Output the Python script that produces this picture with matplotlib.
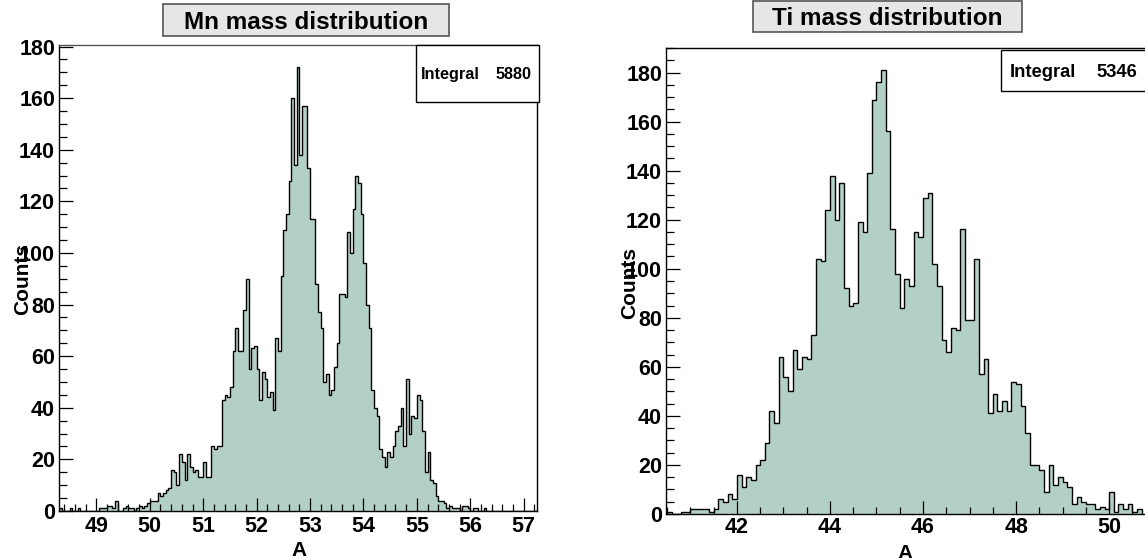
import matplotlib
matplotlib.use("Agg")
import matplotlib.pyplot as plt
from matplotlib.patches import Rectangle
from matplotlib.ticker import MultipleLocator

plt.rcParams['font.family'] = ['Liberation Sans', 'DejaVu Sans']
plt.rcParams['font.weight'] = 'bold'

# ---------------- data ----------------
# Mn histogram: bins of 0.05 starting at 48.3
mn_start = 48.3
mn_width = 0.05
mn_tail_low = [1, 0, 0, 0, 1, 0, 0, 1, 0, 0, 0, 0, 0, 0, 0, 1, 1, 1, 2, 2,
               1, 4, 0, 0, 1, 2, 1, 1, 0, 1, 2, 1, 2, 3]
mn_rise = [4, 4, 4, 7, 6, 7, 8, 9, 16, 15, 10, 22, 19, 12, 22, 17, 15, 16, 13, 13,
           19, 13, 13, 25]
mn_core = [24, 25, 25, 43, 45, 44, 48, 62, 71, 62, 62, 78, 90, 55, 63, 64, 55, 43, 54, 51,
           44, 46, 39, 67, 62, 91, 109, 115, 128, 160, 134, 172, 138, 157, 157, 133, 113, 113, 88, 77,
           71, 50, 53, 45, 47, 56, 65, 84, 84, 83, 108, 100, 117, 130, 127, 115, 96, 80, 71]
mn_fall = [47, 40, 37, 24, 21, 17, 23, 21, 25, 31, 33, 40, 25, 51, 30, 37, 36, 45, 43, 31,
           15, 23, 12, 11, 6, 4, 4, 3, 1, 2, 1, 1, 1, 0, 2, 2, 1, 0, 1, 1,
           0, 0, 1]
mn_tail_high = [0] * 20
mn_counts = mn_tail_low + mn_rise + mn_core + mn_fall + mn_tail_high

# Ti histogram: bins of 0.1 starting at 40.5
ti_start = 40.5
ti_width = 0.1
ti_low = [1, 0, 0, 1, 1, 2, 2, 2, 2, 1, 2, 6, 5, 8, 6]
ti_42 = [16, 11, 15, 14, 20, 22, 29, 42, 37, 64]
ti_43 = [56, 50, 67, 59, 64, 63, 73, 104, 103, 124]
ti_44 = [138, 120, 135, 92, 85, 86, 119, 115, 139, 169]
ti_45 = [176, 181, 156, 116, 98, 84, 96, 93, 115, 113]
ti_46 = [129, 131, 102, 93, 71, 66, 76, 75, 116, 79]
ti_47 = [79, 104, 57, 63, 41, 49, 42, 46, 42, 54]
ti_48 = [53, 44, 33, 20, 20, 18, 9, 20, 12, 15]
ti_49 = [13, 11, 4, 7, 5, 4, 4, 2, 3, 2]
ti_50 = [9, 1, 4, 2, 4, 1, 2]
ti_counts = ti_low + ti_42 + ti_43 + ti_44 + ti_45 + ti_46 + ti_47 + ti_48 + ti_49 + ti_50

mn_title = "Mn mass distribution"
ti_title = "Ti mass distribution"
mn_integral = "5880"
ti_integral = "5346"
mn_xticks = [49, 50, 51, 52, 53, 54, 55, 56, 57]
ti_xticks = [42, 44, 46, 48, 50]
yticks = [0, 20, 40, 60, 80, 100, 120, 140, 160, 180]

# ---------------- style ----------------
W, H = 1145, 558
FILL = '#b3d0c7'
TITLE_BG = '#e6e6e6'

fig = plt.figure(figsize=(W / 100, H / 100), dpi=100)


def rect(x0, x1, y0, y1):
    return [x0 / W, 1 - y1 / H, (x1 - x0) / W, (y1 - y0) / H]


def fx(x):
    return x / W


def fy(y):
    return 1 - y / H


def draw_hist(ax, start, width, counts):
    edges = [start + width * i for i in range(len(counts) + 1)]
    ax.stairs(counts, edges, fill=True, facecolor=FILL, edgecolor='none', baseline=0)
    ax.stairs(counts, edges, fill=False, color='black', lw=1.0, baseline=0)


def style_axes(ax, xmaj, xmin_step, ypad, xpad):
    ax.set_yticks(yticks)
    ax.yaxis.set_minor_locator(MultipleLocator(5))
    ax.set_xticks(xmaj)
    ax.xaxis.set_minor_locator(MultipleLocator(xmin_step))
    ax.tick_params(axis='both', which='both', direction='in', top=False, right=False)
    ax.tick_params(axis='y', which='major', length=10, width=0.9, labelsize=15.5, pad=ypad)
    ax.tick_params(axis='y', which='minor', length=5.5, width=0.9)
    ax.tick_params(axis='x', which='major', length=9.5, width=0.9, labelsize=15.5, pad=xpad)
    ax.tick_params(axis='x', which='minor', length=5, width=0.9)
    for lab in ax.get_xticklabels() + ax.get_yticklabels():
        lab.set_fontweight('bold')
    for s in ax.spines.values():
        s.set_linewidth(1.0)
        s.set_color('black')


# ---------------- left panel ----------------
axL = fig.add_axes(rect(59, 537, 45, 511))
draw_hist(axL, mn_start, mn_width, mn_counts)
axL.set_xlim(48.3, 57.25)
axL.set_ylim(0, 180.6)
style_axes(axL, mn_xticks, 0.2, ypad=2.8, xpad=3.8)
axL.spines['top'].set_color('#555555')

# ---------------- right panel ----------------
axR = fig.add_axes(rect(665.7, 1145, 48, 514))
draw_hist(axR, ti_start, ti_width, ti_counts)
axR.set_xlim(40.47, 50.77)
axR.set_ylim(0, 190)
style_axes(axR, ti_xticks, 0.5, ypad=2.6, xpad=2.2)
axR.spines['right'].set_visible(False)

# ---------------- axis labels ----------------
fig.text(fx(28), fy(279), "Counts", rotation=90, rotation_mode='anchor',
         ha='center', va='baseline', fontsize=15, fontweight='bold')
fig.text(fx(635), fy(283), "Counts", rotation=90, rotation_mode='anchor',
         ha='center', va='baseline', fontsize=15, fontweight='bold')
fig.text(fx(299), fy(555.5), "A", ha='center', va='baseline', fontsize=15, fontweight='bold')
fig.text(fx(905), fy(559), "A", ha='center', va='baseline', fontsize=15, fontweight='bold')

# ---------------- title boxes ----------------
def title_box(x0, x1, y0, y1, text, baseline):
    fig.add_artist(Rectangle((fx(x0), fy(y1)), (x1 - x0) / W, (y1 - y0) / H,
                             transform=fig.transFigure, facecolor=TITLE_BG,
                             edgecolor='#555555', lw=1.2))
    fig.text(fx((x0 + x1) / 2), fy(baseline), text, ha='center', va='baseline',
             fontsize=17.5, fontweight='bold')


title_box(162.5, 449, 4.5, 35.5, mn_title, 28.6)
title_box(753, 1022, 1, 32, ti_title, 25)

# ---------------- stat boxes ----------------
def stat_box(x0, x1, y0, y1, left_x, right_x, baseline, value, fs):
    fig.add_artist(Rectangle((fx(x0), fy(y1)), (x1 - x0) / W, (y1 - y0) / H,
                             transform=fig.transFigure, facecolor='white',
                             edgecolor='black', lw=1.0))
    fig.text(fx(left_x), fy(baseline), "Integral", ha='left', va='baseline',
             fontsize=fs, fontweight='bold')
    fig.text(fx(right_x), fy(baseline), value, ha='right', va='baseline',
             fontsize=fs, fontweight='bold')


stat_box(415.5, 539, 44.6, 101.5, 421, 532, 79, mn_integral, 11.7)
stat_box(1001, 1160, 50, 91, 1010, 1137, 77, ti_integral, 13.2)

fig.savefig("out.png", dpi=100)
